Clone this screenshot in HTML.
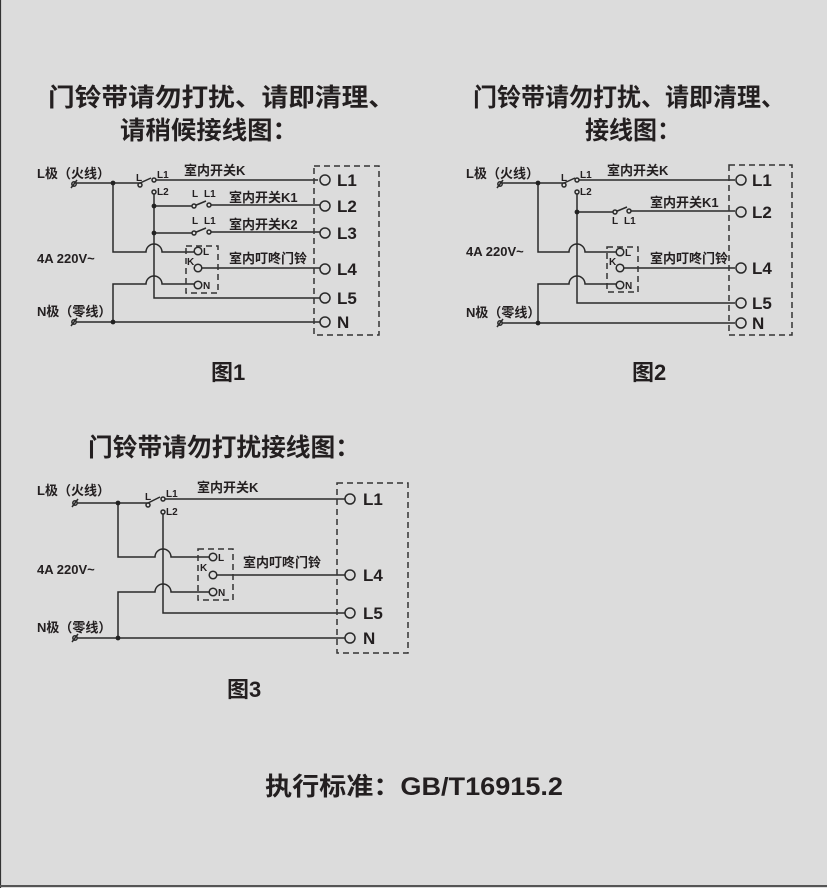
<!DOCTYPE html>
<html><head><meta charset="utf-8"><style>
html,body{margin:0;padding:0;background:#dcdcdc;}
svg{display:block;}
text{font-family:"Liberation Sans","Noto Sans CJK SC",sans-serif;fill:#231f20;}
.t{font-size:25px;font-weight:bold;}
.s{font-size:13px;font-weight:bold;}
.c{font-size:10px;font-weight:bold;}
.b{font-size:17px;font-weight:bold;}
.cap{font-size:22px;font-weight:bold;}
.w{stroke:#2a2a2a;stroke-width:1.5;fill:none;}
.d{stroke:#333;stroke-width:1.5;fill:none;stroke-dasharray:6 4;}
.o{stroke:#2a2a2a;stroke-width:1.5;fill:#dcdcdc;}
</style></head><body>
<svg width="827" height="888" viewBox="0 0 827 888" xmlns="http://www.w3.org/2000/svg">
<rect width="827" height="888" fill="#dcdcdc"/>
<line x1="0.5" y1="0" x2="0.5" y2="888" stroke="#333" stroke-width="1.2"/>
<line x1="0" y1="886" x2="827" y2="886" stroke="#555" stroke-width="2"/>

<text class="t" x="48" y="106" textLength="347" lengthAdjust="spacingAndGlyphs">门铃带请勿打扰、请即清理、</text>
<text class="t" x="120" y="139" textLength="178" lengthAdjust="spacingAndGlyphs">请稍候接线图：</text>
<text class="t" x="473" y="106" textLength="312" lengthAdjust="spacingAndGlyphs">门铃带请勿打扰、请即清理、</text>
<text class="t" x="585" y="139" textLength="96" lengthAdjust="spacingAndGlyphs">接线图：</text>
<text class="t" x="88" y="456" textLength="272" lengthAdjust="spacingAndGlyphs">门铃带请勿打扰接线图：</text>
<text class="cap" x="211" y="380">图1</text>
<text class="cap" x="632" y="380">图2</text>
<text class="cap" x="227" y="697">图3</text>
<text class="t" x="265" y="795" textLength="298" lengthAdjust="spacingAndGlyphs">执行标准：GB/T16915.2</text>

<!-- Figure 1 -->
<g>
<text class="s" x="37" y="178">L极（火线）</text>
<text class="s" x="37" y="263">4A 220V~</text>
<text class="s" x="37" y="316">N极（零线）</text>
<circle cx="74" cy="184" r="2.2" class="w"/><line x1="71" y1="188" x2="77" y2="180" class="w"/>
<circle cx="74" cy="322" r="2.2" class="w"/><line x1="71" y1="326" x2="77" y2="318" class="w"/>
<path class="w" d="M76 183 H140 L151 178 M154 180 H318"/>
<circle cx="140" cy="185" r="2" class="o"/><circle cx="154" cy="180" r="2" class="o"/><circle cx="154" cy="192" r="2" class="o"/>
<text class="c" x="136" y="181">L</text><text class="c" x="157" y="178">L1</text><text class="c" x="157" y="195">L2</text>
<path class="w" d="M154 194 V298 H320"/>
<path class="w" d="M154 206 H194 M194 206 L206 201 M209 205 H320"/>
<circle cx="194" cy="206" r="2" class="o"/><circle cx="209" cy="205" r="2" class="o"/>
<text class="c" x="192" y="197">L</text><text class="c" x="204" y="197">L1</text>
<path class="w" d="M154 233 H194 M194 233 L206 228 M209 232 H320"/>
<circle cx="194" cy="233" r="2" class="o"/><circle cx="209" cy="232" r="2" class="o"/>
<text class="c" x="192" y="224">L</text><text class="c" x="204" y="224">L1</text>
<circle cx="154" cy="206" r="2.4" fill="#222"/><circle cx="154" cy="233" r="2.4" fill="#222"/>
<path class="w" d="M113 183 V252 H146 a8 8 0 0 1 16 0 H194"/>
<path class="w" d="M76 322 H320 M113 322 V284 H146 a8 8 0 0 1 16 0 H194"/>
<path class="w" d="M202 268 H320"/>
<circle cx="113" cy="183" r="2.4" fill="#222"/><circle cx="113" cy="322" r="2.4" fill="#222"/>
<rect x="186" y="246" width="32" height="47" class="d"/>
<circle cx="198" cy="251" r="3.8" class="o"/><circle cx="198" cy="268" r="3.8" class="o"/><circle cx="198" cy="285" r="3.8" class="o"/>
<text class="c" x="203" y="255">L</text><text class="c" x="187" y="265">K</text><text class="c" x="203" y="289">N</text>
<text class="s" x="184" y="175">室内开关K</text>
<text class="s" x="229" y="202">室内开关K1</text>
<text class="s" x="229" y="229">室内开关K2</text>
<text class="s" x="229" y="263">室内叮咚门铃</text>
<rect x="314" y="166" width="65" height="169" class="d"/>
<circle cx="325" cy="180" r="5" class="o"/><circle cx="325" cy="206" r="5" class="o"/><circle cx="325" cy="233" r="5" class="o"/>
<circle cx="325" cy="269" r="5" class="o"/><circle cx="325" cy="298" r="5" class="o"/><circle cx="325" cy="322" r="5" class="o"/>
<text class="b" x="337" y="186">L1</text><text class="b" x="337" y="212">L2</text><text class="b" x="337" y="239">L3</text>
<text class="b" x="337" y="275">L4</text><text class="b" x="337" y="304">L5</text><text class="b" x="337" y="328">N</text>
</g>

<!-- Figure 2 -->
<g>
<text class="s" x="466" y="178">L极（火线）</text>
<text class="s" x="466" y="256">4A 220V~</text>
<text class="s" x="466" y="317">N极（零线）</text>
<circle cx="500" cy="184" r="2.2" class="w"/><line x1="497" y1="188" x2="503" y2="180" class="w"/>
<circle cx="500" cy="323" r="2.2" class="w"/><line x1="497" y1="327" x2="503" y2="319" class="w"/>
<path class="w" d="M502 183 H564 L575 178 M577 180 H735"/>
<circle cx="564" cy="185" r="2" class="o"/><circle cx="577" cy="180" r="2" class="o"/><circle cx="577" cy="192" r="2" class="o"/>
<text class="c" x="561" y="181">L</text><text class="c" x="580" y="178">L1</text><text class="c" x="580" y="195">L2</text>
<path class="w" d="M577 194 V303 H735"/>
<path class="w" d="M577 212 H615 M615 212 L627 207 M629 211 H735"/>
<circle cx="615" cy="212" r="2" class="o"/><circle cx="629" cy="211" r="2" class="o"/>
<text class="c" x="612" y="224">L</text><text class="c" x="624" y="224">L1</text>
<circle cx="577" cy="212" r="2.4" fill="#222"/>
<path class="w" d="M538 183 V252 H569 a8 8 0 0 1 16 0 H616"/>
<path class="w" d="M502 323 H735 M538 323 V284 H569 a8 8 0 0 1 16 0 H616"/>
<path class="w" d="M624 268 H735"/>
<circle cx="538" cy="183" r="2.4" fill="#222"/><circle cx="538" cy="323" r="2.4" fill="#222"/>
<rect x="607" y="247" width="31" height="45" class="d"/>
<circle cx="620" cy="252" r="3.8" class="o"/><circle cx="620" cy="268" r="3.8" class="o"/><circle cx="620" cy="285" r="3.8" class="o"/>
<text class="c" x="625" y="256">L</text><text class="c" x="609" y="265">K</text><text class="c" x="625" y="289">N</text>
<text class="s" x="607" y="175">室内开关K</text>
<text class="s" x="650" y="207">室内开关K1</text>
<text class="s" x="650" y="263">室内叮咚门铃</text>
<rect x="729" y="165" width="63" height="170" class="d"/>
<circle cx="741" cy="180" r="5" class="o"/><circle cx="741" cy="212" r="5" class="o"/>
<circle cx="741" cy="268" r="5" class="o"/><circle cx="741" cy="303" r="5" class="o"/><circle cx="741" cy="323" r="5" class="o"/>
<text class="b" x="752" y="186">L1</text><text class="b" x="752" y="218">L2</text>
<text class="b" x="752" y="274">L4</text><text class="b" x="752" y="309">L5</text><text class="b" x="752" y="329">N</text>
</g>

<!-- Figure 3 -->
<g>
<text class="s" x="37" y="495">L极（火线）</text>
<text class="s" x="37" y="574">4A 220V~</text>
<text class="s" x="37" y="632">N极（零线）</text>
<circle cx="75" cy="503" r="2.2" class="w"/><line x1="72" y1="507" x2="78" y2="499" class="w"/>
<circle cx="75" cy="638" r="2.2" class="w"/><line x1="72" y1="642" x2="78" y2="634" class="w"/>
<path class="w" d="M77 503 H148 L160 497 M163 499 H345"/>
<circle cx="148" cy="505" r="2" class="o"/><circle cx="163" cy="499" r="2" class="o"/><circle cx="163" cy="512" r="2" class="o"/>
<text class="c" x="145" y="500">L</text><text class="c" x="166" y="497">L1</text><text class="c" x="166" y="515">L2</text>
<path class="w" d="M163 514 V613 H345"/>
<path class="w" d="M118 503 V557 H155 a8 8 0 0 1 16 0 H209"/>
<path class="w" d="M77 638 H345 M118 638 V592 H155 a8 8 0 0 1 16 0 H209"/>
<path class="w" d="M217 575 H345"/>
<circle cx="118" cy="503" r="2.4" fill="#222"/><circle cx="118" cy="638" r="2.4" fill="#222"/>
<rect x="198" y="549" width="35" height="51" class="d"/>
<circle cx="213" cy="557" r="3.8" class="o"/><circle cx="213" cy="575" r="3.8" class="o"/><circle cx="213" cy="592" r="3.8" class="o"/>
<text class="c" x="218" y="561">L</text><text class="c" x="200" y="571">K</text><text class="c" x="218" y="596">N</text>
<text class="s" x="197" y="492">室内开关K</text>
<text class="s" x="243" y="567">室内叮咚门铃</text>
<rect x="337" y="483" width="71" height="170" class="d"/>
<circle cx="350" cy="499" r="5" class="o"/><circle cx="350" cy="575" r="5" class="o"/>
<circle cx="350" cy="613" r="5" class="o"/><circle cx="350" cy="638" r="5" class="o"/>
<text class="b" x="363" y="505">L1</text><text class="b" x="363" y="581">L4</text>
<text class="b" x="363" y="619">L5</text><text class="b" x="363" y="644">N</text>
</g>
</svg>
</body></html>
